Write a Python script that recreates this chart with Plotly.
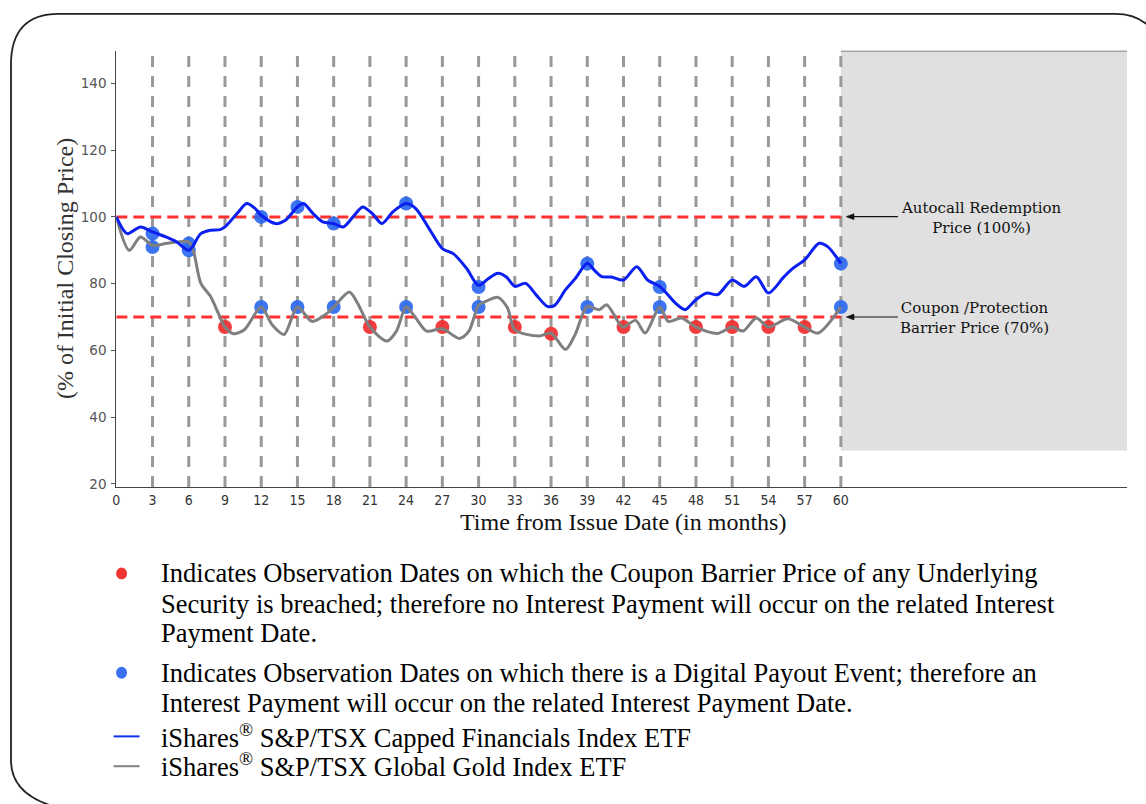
import plotly.graph_objects as go

W, H = 1146, 804

# ---------------- data ----------------
months = list(range(0, 61, 3))
tick_labels = [str(m) for m in months]

fin_x = [0, 0.9, 2, 3, 4.1, 5, 6, 7, 7.8, 8.6, 9, 10, 10.8, 11.5, 12, 13.2, 14, 15, 15.5, 16.3,
         17.1, 18, 18.8, 19.6, 20.4, 21.2, 22, 22.9, 24, 24.8, 25.9, 27, 27.9, 29, 30, 30.8,
         31.6, 32.3, 33, 33.9, 34.8, 35.7, 36.3, 37.2, 38, 39, 39.6, 40.2, 41, 42, 43.1, 44,
         45, 45.6, 46.3, 47.1, 48, 48.9, 49.8, 51, 52, 53, 54, 55.3, 56, 57, 58.2, 58.9, 60]
fin_y = [100, 95, 97, 95.5, 94, 92.5, 90, 95, 96, 96.2, 97, 101, 104, 102.5, 100.5, 98, 99, 103, 104, 101,
         98.5, 98, 97, 100, 103, 101, 98, 101.5, 104, 102.5, 96.5, 90.5, 89, 84.6, 79.5, 81.5,
         83.1, 82, 79.2, 80.1, 76.5, 73.2, 73.5, 78.2, 81.5, 86.1, 84, 82.1, 82, 81.1, 85.1, 81.1,
         79.2, 77, 74.2, 72.2, 75.2, 77.2, 76.7, 81.1, 79.2, 82.1, 77.2, 82.1, 84.5, 87.1, 92.1, 91.1, 86.1]

gold_x = [0, 1.07, 2, 3, 4.2, 5.5, 6, 6.4, 7, 7.8, 8.5, 9, 9.7, 10.6, 12, 12.9, 13.9, 15, 16.2, 17.3,
          18, 19.3, 20, 21, 22.4, 23.2, 24, 24.8, 25.7, 27, 28.4, 29.2, 30, 30.6, 31.6, 32.4, 33,
          35, 36, 37.2, 38, 39, 40, 40.6, 41.7, 42, 43, 43.8, 45, 45.7, 46.8, 48, 49.8, 51, 51.9,
          53, 54, 55.6, 57, 58.1, 60]
gold_y = [100, 90, 94, 91.5, 92.1, 92.6, 92.5, 89.6, 80.1, 76.2, 70.7, 67, 65, 66.2, 73, 67.7, 64.8, 73, 68.7, 70.7,
          73, 77.5, 74, 67, 62.8, 65.8, 73, 69.7, 65.8, 66.5, 63.6, 65.8, 73.5, 74.7, 75.9, 72.7, 66.2,
          64.3, 65.2, 60.3, 64.8, 73.2, 72.2, 73.7, 67.8, 67, 69, 65.2, 73, 68.7, 69.7, 67, 65.1, 67, 65.8,
          69.7, 67, 69.5, 67, 65.2, 73]

breach_x = [9, 21, 27, 33, 36, 42, 48, 51, 54, 57]
breach_y = [67, 67, 67, 67, 65, 67, 67, 67, 67, 67]

payout_fin_x = [3, 6, 12, 15, 18, 24, 30, 39, 45, 60]
payout_fin_y = [95, 90, 100, 103, 98, 104, 79, 86, 79, 86]
payout_gold_x = [3, 6, 12, 15, 18, 24, 30, 39, 45, 60]
payout_gold_y = [91, 92, 73, 73, 73, 73, 73, 73, 73, 73]

autocall_level = 100
barrier_level = 70
x_max = 83.7
y_min, y_max = 19.1, 149.8
shade_bottom = 30

breach_text = ["Indicates Observation Dates on which the Coupon Barrier Price of any Underlying",
               "Security is breached; therefore no Interest Payment will occur on the related Interest",
               "Payment Date."]
payout_text = ["Indicates Observation Dates on which there is a Digital Payout Event; therefore an",
               "Interest Payment will occur on the related Interest Payment Date."]
series_names = ["iShares<sup>®</sup> S&P/TSX Capped Financials Index ETF",
                "iShares<sup>®</sup> S&P/TSX Global Gold Index ETF"]

# ---------------- helpers ----------------
def px(x):
    return x / W

def py(y):
    return 1 - y / H

BLUE_DOT = "rgba(45,105,240,0.92)"
RED_DOT = "rgba(240,45,45,0.92)"
BLUE_LINE = "#0a1ff0"
GRAY_LINE = "#7f7f7f"

fig = go.Figure()

# markers first (lines drawn over them)
fig.add_trace(go.Scatter(x=breach_x, y=breach_y, mode="markers",
                         marker=dict(size=14, color=RED_DOT), hoverinfo="skip"))
fig.add_trace(go.Scatter(x=payout_fin_x, y=payout_fin_y, mode="markers",
                         marker=dict(size=14, color=BLUE_DOT), hoverinfo="skip"))
fig.add_trace(go.Scatter(x=payout_gold_x, y=payout_gold_y, mode="markers",
                         marker=dict(size=14, color=BLUE_DOT), hoverinfo="skip"))
fig.add_trace(go.Scatter(x=gold_x, y=gold_y, mode="lines",
                         line=dict(color=GRAY_LINE, width=3, shape="spline", smoothing=0.8)))
fig.add_trace(go.Scatter(x=fin_x, y=fin_y, mode="lines",
                         line=dict(color=BLUE_LINE, width=3, shape="spline", smoothing=0.8)))

shapes = []
# shaded region after maturity
shapes.append(dict(type="rect", xref="x", yref="y", x0=60, x1=x_max, y0=shade_bottom, y1=y_max,
                   fillcolor="#e0e0e0", line=dict(width=0), layer="below"))
shapes.append(dict(type="line", xref="x", yref="y", x0=60, x1=x_max, y0=y_max, y1=y_max,
                   line=dict(color="#666666", width=1.5), layer="below"))
# vertical observation-date lines
for m in months[1:]:
    shapes.append(dict(type="line", xref="x", yref="y", x0=m, x1=m, y0=y_min, y1=y_max,
                       line=dict(color="#999999", width=3, dash="11px,9px"), layer="below"))
# horizontal barrier lines
for lvl in (autocall_level, barrier_level):
    shapes.append(dict(type="line", xref="x", yref="y", x0=0, x1=60, y0=lvl, y1=lvl,
                       line=dict(color="#ff3030", width=3, dash="11px,6px"), layer="below"))

# arrows pointing to the barrier lines (drawn as shapes)
for ypix in (218, 319):
    shapes.append(dict(type="line", xref="paper", yref="paper", x0=px(851), x1=px(897),
                       y0=py(ypix), y1=py(ypix), line=dict(color="#111111", width=1.2)))
    tri = (f"M {px(845)},{py(ypix)} L {px(853)},{py(ypix - 3)} "
           f"L {px(853)},{py(ypix + 3)} Z")
    shapes.append(dict(type="path", xref="paper", yref="paper", path=tri,
                       fillcolor="#111111", line=dict(color="#111111", width=0.5)))

# rounded page border
border = (f"M {px(90)},{py(818)} Q {px(7)},{py(812)} {px(7)},{py(765)} "
          f"L {px(7)},{py(65)} Q {px(7)},{py(14)} {px(55)},{py(14)} "
          f"L {px(1115)},{py(14)} Q {px(1148)},{py(14)} {px(1162)},{py(45)}")
shapes.append(dict(type="path", xref="paper", yref="paper", path=border,
                   line=dict(color="#222222", width=1.8)))

# legend symbols
def dot(cx, cy, color):
    return dict(type="circle", xref="paper", yref="paper",
                x0=px(cx - 5.5), x1=px(cx + 5.5), y0=py(cy + 6), y1=py(cy - 6),
                fillcolor=color, line=dict(width=0))

shapes.append(dot(118, 577, "#f03434"))
shapes.append(dot(118, 677, "#3a6ff0"))
shapes.append(dict(type="line", xref="paper", yref="paper", x0=px(110), x1=px(136),
                   y0=py(741), y1=py(741), line=dict(color="#1030f0", width=2)))
shapes.append(dict(type="line", xref="paper", yref="paper", x0=px(110), x1=px(136),
                   y0=py(771), y1=py(771), line=dict(color="#808080", width=2)))

annotations = []
ann_font = dict(family="DejaVu Serif", size=15, color="#111111")
annotations.append(dict(x=px(981), y=py(219), xref="paper", yref="paper",
                        text="Autocall Redemption<br>Price (100%)", showarrow=False,
                        align="center", xanchor="center", yanchor="middle", font=ann_font))
annotations.append(dict(x=px(974), y=py(320), xref="paper", yref="paper",
                        text="Coupon /Protection<br>Barrier Price (70%)", showarrow=False,
                        align="center", xanchor="center", yanchor="middle", font=ann_font))
# axis titles
annotations.append(dict(x=px(62), y=py(270), xref="paper", yref="paper",
                        text="(% of Initial Closing Price)", textangle=-90, showarrow=False,
                        xanchor="center", yanchor="middle",
                        font=dict(family="Liberation Serif", size=24, color="#333333")))
annotations.append(dict(x=px(621), y=py(525), xref="paper", yref="paper",
                        text="Time from Issue Date (in months)", showarrow=False,
                        xanchor="center", yanchor="middle",
                        font=dict(family="Liberation Serif", size=24, color="#111111")))
# legend texts, one annotation per line to control line spacing
leg_font = dict(family="Liberation Serif", size=26.5, color="#000000")
for txt, ypix in zip(breach_text + payout_text + series_names,
                     [577, 608, 637, 677, 707, 741, 770]):
    annotations.append(dict(x=px(156), y=py(ypix), xref="paper", yref="paper", showarrow=False,
                            xanchor="left", yanchor="middle", align="left", font=leg_font,
                            text=txt))

fig.update_layout(
    width=W, height=H,
    margin=dict(l=0, r=0, t=0, b=0),
    paper_bgcolor="white", plot_bgcolor="white",
    showlegend=False,
    shapes=shapes, annotations=annotations,
    xaxis=dict(domain=[px(112.7), px(1127)], range=[0, x_max],
               tickvals=months, ticktext=tick_labels, ticks="",
               showgrid=False, zeroline=False, showline=True, linecolor="#444444", linewidth=1.2,
               tickfont=dict(family="DejaVu Sans Condensed, DejaVu Sans", size=14, color="#333333")),
    yaxis=dict(domain=[py(490), py(51)], range=[y_min, y_max],
               tickvals=[20, 40, 60, 80, 100, 120, 140], ticks="outside", ticklen=4,
               tickcolor="#555555", ticklabelstandoff=2,
               showgrid=False, zeroline=False, showline=True, linecolor="#444444", linewidth=1.2,
               tickfont=dict(family="DejaVu Sans", size=13.5, color="#555555")),
)

fig.write_html("out.html",
               config={"displayModeBar": False},
               post_script="document.body.style.margin='0';document.body.style.overflow='hidden';")
